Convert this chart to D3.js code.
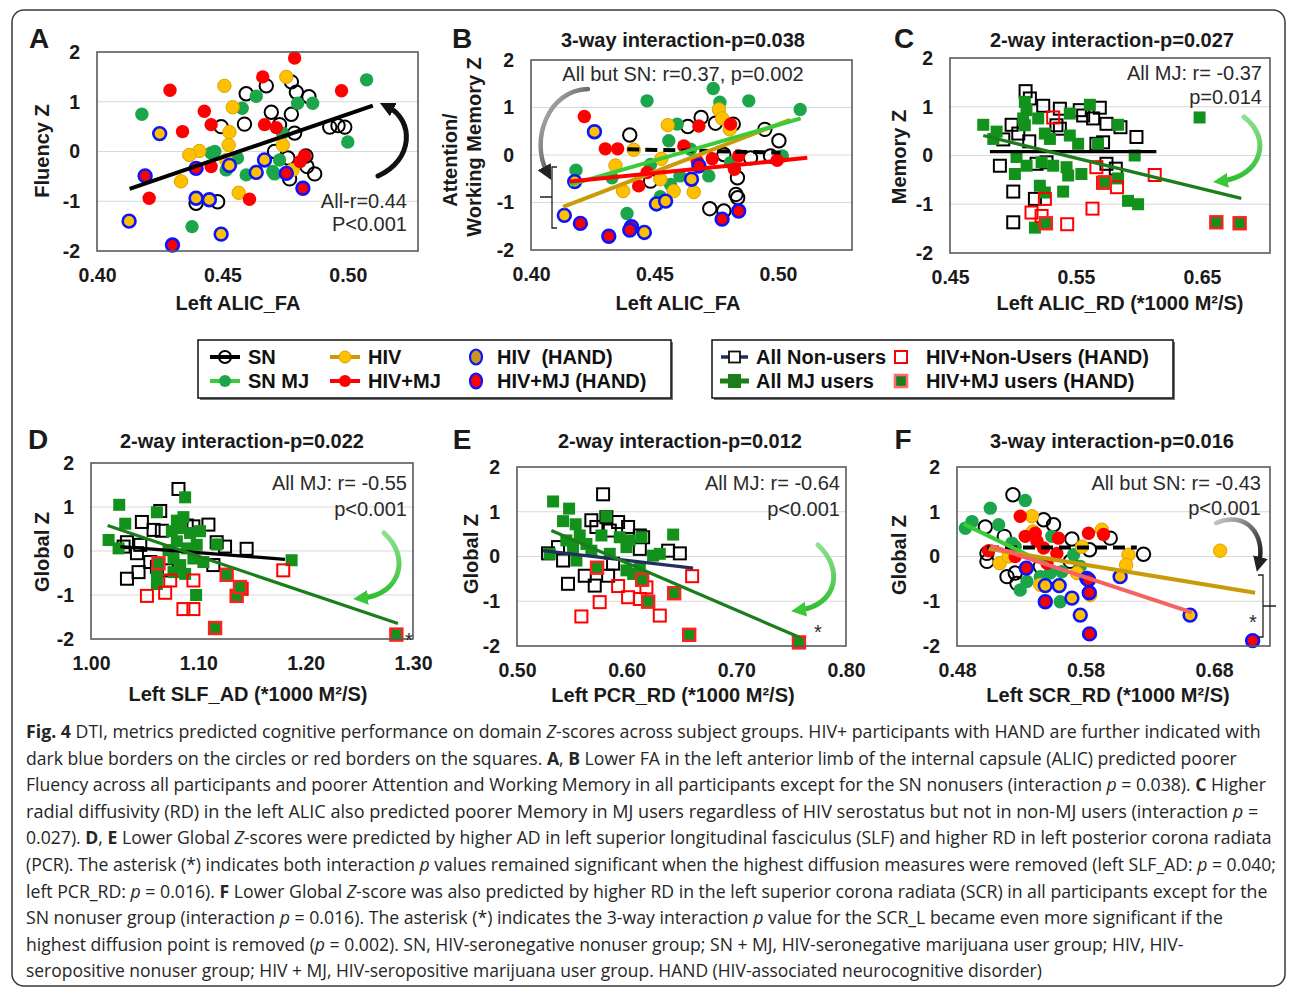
<!DOCTYPE html>
<html>
<head>
<meta charset="utf-8">
<script src="https://cdn.jsdelivr.net/npm/d3@7"></script>
<style>
  body { margin: 0; background: #fff; }
  svg { display: block; }
  .tick text { font-family: "Liberation Sans", Arial, sans-serif; font-weight: bold; font-size: 19.5px; fill: #1a1a1a; }
  text { white-space: pre; }
</style>
</head>
<body>
<script>
// ---- data: ticks ----
var yTicks = [-2, -1, 0, 1, 2],
    gridTicks = [-1, 0, 1];
var xTicksA = [0.40, 0.45, 0.50],
    xTicksB = [0.40, 0.45, 0.50],
    xTicksC = [0.45, 0.55, 0.65],
    xTicksD = [1.00, 1.10, 1.20, 1.30],
    xTicksE = [0.50, 0.60, 0.70, 0.80],
    xTicksF = [0.48, 0.58, 0.68];

// ---- panel A: Fluency Z vs Left ALIC_FA ----
var A_SN = [[0.4775,1.40],[0.4795,1.19],[0.4675,1.32],[0.4595,1.16],[0.4845,1.10],[0.4695,0.79],[0.4775,0.75],[0.4728,0.54],[0.4588,0.55],[0.4495,0.50],[0.4928,0.49],[0.4961,0.52],[0.4988,0.49],[0.4788,0.37],[0.4708,0.00],[0.4761,-0.13],[0.4833,-0.09],[0.4837,-0.30],[0.4868,-0.45],[0.4768,-0.55],[0.4481,-1.01],[0.4395,-1.04]];
var A_SNMJ = [[0.4179,0.75],[0.5075,1.44],[0.4635,1.11],[0.4579,0.87],[0.4800,0.97],[0.4860,0.97],[0.5000,0.19],[0.4379,-1.51],[0.4455,-0.03],[0.4470,0.00],[0.4515,-0.37],[0.4560,-0.13],[0.4595,-0.47],[0.4701,-0.40],[0.4728,-0.17],[0.4740,0.37],[0.4708,-0.45]];
var A_HIV = [[0.4508,1.32],[0.4755,1.50],[0.4541,0.89],[0.4528,0.39],[0.4525,0.13],[0.4408,0.01],[0.4368,-0.07],[0.4335,-0.60],[0.4565,-0.83],[0.4741,0.13],[0.4780,-0.37],[0.4515,-0.17]];
var A_HIVMJ = [[0.4788,1.88],[0.4661,1.50],[0.4291,1.23],[0.4428,0.81],[0.4341,0.40],[0.4455,0.54],[0.4668,0.54],[0.4715,0.48],[0.4975,1.22],[0.4455,-0.30],[0.4208,-0.94],[0.4608,-0.96],[0.4828,-0.09],[0.4810,-0.20]];
var A_HIV_HAND = [[0.4250,0.36],[0.4128,-1.40],[0.4395,-0.94],[0.4448,-0.97],[0.4495,-1.66],[0.4528,-0.28],[0.4635,-0.42],[0.4668,-0.17]];
var A_HIVMJ_HAND = [[0.4192,-0.49],[0.4301,-1.88],[0.4395,-0.34],[0.4755,-0.44],[0.4821,-0.74]];
var A_fit = [[0.413,-0.75],[0.510,0.92]];

// ---- panel B: Attention/Working Memory Z vs Left ALIC_FA ----
var B_SN = [[0.4400,0.42],[0.4635,0.60],[0.4689,0.79],[0.4747,0.67],[0.4819,0.65],[0.4947,0.54],[0.5004,0.30],[0.4836,-0.48],[0.4830,-0.83],[0.4837,-0.90],[0.4724,-1.13],[0.4781,-1.18],[0.4484,-0.55],[0.4781,0.01],[0.4889,-0.06],[0.4970,-0.02]];
var B_SNMJ = [[0.4738,1.40],[0.4470,1.14],[0.4882,1.14],[0.4765,1.11],[0.5090,0.96],[0.4592,0.65],[0.4558,0.30],[0.4182,-0.32],[0.4328,-0.48],[0.4389,-1.23],[0.4524,-0.88],[0.4565,-0.62],[0.4603,-0.44],[0.4720,-0.44],[0.5018,-0.02],[0.4646,0.12],[0.4484,-0.20],[0.4808,-0.16]];
var B_HIV = [[0.4761,0.96],[0.4774,0.77],[0.4805,0.54],[0.4554,0.63],[0.4416,0.11],[0.4342,-0.22],[0.4373,-0.76],[0.4524,-0.51],[0.4578,-0.76],[0.4659,-0.78],[0.4528,-0.08]];
var B_HIVMJ = [[0.4216,0.81],[0.4301,0.13],[0.4351,0.13],[0.4680,0.61],[0.4808,0.65],[0.4619,0.19],[0.4436,-0.65],[0.4470,-0.37],[0.4734,-0.08],[0.4824,-0.30],[0.4841,-0.02],[0.4997,-0.11],[0.4673,-0.13]];
var B_HIV_HAND = [[0.4257,0.49],[0.4177,-0.56],[0.4135,-1.27],[0.4459,-1.63],[0.4508,-1.03],[0.4545,-0.97],[0.4650,-0.51]];
var B_HIVMJ_HAND = [[0.4200,-1.44],[0.4315,-1.71],[0.4407,-1.51],[0.4400,-1.58],[0.4774,-1.35],[0.4841,-1.18],[0.4680,-0.23]];
var B_fitSN = [[0.439,0.12],[0.501,0.05]],
    B_fitSNMJ = [[0.4157,-0.63],[0.5092,0.77]],
    B_fitHIV = [[0.413,-1.09],[0.5049,0.74]],
    B_fitHIVMJ = [[0.4157,-0.56],[0.5119,-0.06]];

// ---- panel C: Memory Z vs Left ALIC_RD ----
var C_NON = [[0.5100,1.32],[0.5134,1.17],[0.5240,1.02],[0.5372,0.96],[0.5530,0.93],[0.5557,0.82],[0.5689,0.98],[0.5742,0.65],[0.5853,0.58],[0.5980,0.38],[0.4989,0.63],[0.5042,0.45],[0.4923,0.33],[0.5129,0.29],[0.5345,0.62],[0.5372,0.55],[0.5662,0.24],[0.5715,0.27],[0.4896,-0.21],[0.5187,-0.17],[0.5266,-0.14],[0.5002,-0.74],[0.5174,-0.89],[0.5002,-1.37],[0.5742,-0.17],[0.5816,-0.27],[0.5636,0.76]];
var C_NON_HAND = [[0.5319,0.78],[0.5662,-0.24],[0.5715,-0.56],[0.5826,-0.65],[0.6125,-0.40],[0.5147,-1.17],[0.5227,-1.24],[0.5253,-0.89],[0.5430,-1.41],[0.5631,-1.09]];
var C_MJ = [[0.4764,0.63],[0.4870,0.49],[0.4844,0.34],[0.5094,1.10],[0.5107,0.93],[0.5081,0.76],[0.5094,0.62],[0.5200,0.76],[0.5253,0.45],[0.5293,0.34],[0.5451,0.86],[0.5610,1.04],[0.5451,0.41],[0.5517,0.24],[0.5675,0.24],[0.5834,0.63],[0.5966,0.00],[0.5028,-0.03],[0.5015,-0.38],[0.5108,-0.21],[0.5227,-0.14],[0.5319,-0.21],[0.5425,-0.24],[0.5438,-0.41],[0.5543,-0.38],[0.5398,-0.74],[0.5213,-0.62],[0.5253,-0.76],[0.5834,-0.47],[0.5913,-0.93],[0.5993,-1.00],[0.5174,-1.48],[0.6481,0.78]];
var C_MJ_HAND = [[0.5261,-1.39],[0.6614,-1.37],[0.6799,-1.39],[0.5728,-0.55]];
var C_fitNON = [[0.4817,0.08],[0.6138,0.08]],
    C_fitMJ = [[0.4764,0.41],[0.6812,-0.88]];

// ---- panel D: Global Z vs Left SLF_AD ----
var D_NON = [[1.0815,1.41],[1.0645,0.91],[1.0474,0.66],[1.0583,0.48],[1.0660,0.46],[1.1094,0.60],[1.0954,0.56],[1.0892,0.58],[1.1171,0.20],[1.1249,0.10],[1.1450,0.05],[1.0335,0.20],[1.0304,0.10],[1.0459,0.14],[1.0428,-0.05],[1.0552,-0.25],[1.0614,-0.36],[1.0335,-0.63],[1.0443,-0.48],[1.0707,-0.44],[1.1140,-0.32]];
var D_NON_HAND = [[1.0521,-1.02],[1.0691,-0.95],[1.0738,-0.67],[1.0954,-0.67],[1.0861,-1.32],[1.0954,-1.32],[1.1404,-0.86],[1.1791,-0.44]];
var D_MJ = [[1.0263,1.05],[1.0164,0.25],[1.0257,0.06],[1.0319,0.62],[1.0614,0.88],[1.0877,1.22],[1.0800,0.69],[1.0861,0.77],[1.0831,0.52],[1.0753,0.45],[1.0923,0.41],[1.1016,0.45],[1.0985,0.14],[1.0892,0.06],[1.0800,0.22],[1.0722,0.02],[1.0769,-0.17],[1.0831,-0.32],[1.1047,-0.25],[1.1171,0.15],[1.0954,-0.17],[1.0614,-0.49],[1.0614,-0.75],[1.0769,-0.48],[1.0877,-0.52],[1.0979,-1.00],[1.1869,-0.21]];
var D_MJ_HAND = [[1.0629,-0.28],[1.1156,-1.75],[1.1264,-0.54],[1.1357,-1.02],[1.1388,-0.82],[1.2845,-1.90]];
var D_fitNON = [[1.0273,0.10],[1.1807,-0.19]],
    D_fitMJ = [[1.0155,0.58],[1.286,-1.65]];

// ---- panel E: Global Z vs Left PCR_RD ----
var E_NON = [[0.5785,1.39],[0.5678,0.81],[0.5724,0.66],[0.5815,0.88],[0.5846,0.58],[0.5922,0.77],[0.6013,0.66],[0.6120,0.47],[0.6150,0.43],[0.5283,0.07],[0.5420,-0.09],[0.5374,0.21],[0.5465,-0.61],[0.5618,-0.43],[0.5709,-0.65],[0.5831,-0.43],[0.5876,-0.16],[0.6378,0.13],[0.6485,0.07],[0.6120,0.17]];
var E_NON_HAND = [[0.5587,-1.34],[0.5754,-1.02],[0.5922,-0.66],[0.6013,-0.91],[0.6120,-0.95],[0.6180,-0.69],[0.6302,-1.32],[0.6597,-0.44]];
var E_MJ = [[0.5329,1.23],[0.5475,1.07],[0.5420,0.79],[0.5535,0.72],[0.5572,0.47],[0.5633,0.28],[0.5511,0.21],[0.5298,0.06],[0.5450,0.36],[0.5815,0.90],[0.5770,0.47],[0.5937,0.43],[0.6028,0.36],[0.5998,0.21],[0.6135,0.43],[0.6424,0.49],[0.6241,0.02],[0.6302,0.06],[0.5998,-0.31],[0.6059,-0.39],[0.6120,-0.28],[0.5542,-0.09],[0.5846,0.06],[0.5678,0.13]];
var E_MJ_HAND = [[0.5730,-0.25],[0.6141,-0.52],[0.6196,-1.01],[0.6433,-0.82],[0.6570,-1.75],[0.7571,-1.92]];
var E_fitNON = [[0.5237,0.13],[0.6606,-0.26]],
    E_fitMJ = [[0.5313,0.58],[0.758,-1.81]];

// ---- panel F: Global Z vs Left SCR_RD ----
var F_SN = [[0.5235,1.38],[0.5020,0.66],[0.5168,0.45],[0.5474,0.82],[0.5551,0.71],[0.5694,0.39],[0.5831,0.15],[0.5992,0.41],[0.6251,0.05],[0.5033,0.07],[0.5033,-0.11],[0.5189,-0.45],[0.5253,-0.37],[0.5266,-0.60],[0.5448,-0.22],[0.5551,-0.45],[0.5681,-0.11]];
var F_SNMJ = [[0.4865,0.63],[0.4917,0.78],[0.5059,1.08],[0.5124,0.71],[0.5331,1.25],[0.5227,0.30],[0.5253,0.22],[0.5344,-0.56],[0.5292,-0.75],[0.5448,-0.45],[0.5525,-0.37],[0.5538,0.45],[0.5603,-1.01],[0.5707,0.04],[0.5759,-0.22],[0.5616,-0.34]];
var F_HIV = [[0.5383,0.90],[0.5391,0.56],[0.5772,0.22],[0.5927,0.60],[0.5132,-0.15],[0.5202,0.00],[0.5448,-0.63],[0.5733,-0.37],[0.6134,0.04],[0.6116,-0.19],[0.6847,0.13],[0.5836,-0.86]];
var F_HIVMJ = [[0.5292,0.90],[0.5331,0.45],[0.5409,0.52],[0.5422,0.34],[0.5474,0.19],[0.5590,0.41],[0.5823,0.52],[0.5940,0.49],[0.5046,0.13],[0.5253,0.00],[0.5500,-0.15],[0.5577,0.07]];
var F_HIV_HAND = [[0.5487,-0.65],[0.5595,-0.65],[0.5694,-0.93],[0.5759,-1.31],[0.6069,-0.45],[0.6613,-1.31],[0.5810,-0.49]];
var F_HIVMJ_HAND = [[0.5339,-0.26],[0.5487,-1.01],[0.5823,-0.52],[0.5829,-0.81],[0.5831,-1.73],[0.7100,-1.88]];
var F_fitSN = [[0.5033,0.20],[0.6199,0.20]],
    F_fitSNMJ = [[0.4852,0.73],[0.5512,-0.19]],
    F_fitHIV = [[0.5046,0.17],[0.7119,-0.81]],
    F_fitHIVMJ = [[0.5059,0.24],[0.6626,-1.25]];

// ---- texts ----
var legendCircleLabels = ["SN", "HIV", "HIV  (HAND)", "SN MJ", "HIV+MJ", "HIV+MJ (HAND)"];
var legendSquareLabels = ["All Non-users", "HIV+Non-Users (HAND)", "All MJ users", "HIV+MJ users (HAND)"];

var captionLines = [
  [["b","Fig. 4"],["n"," DTI, metrics predicted cognitive performance on domain "],["i","Z"],["n","-scores across subject groups. HIV+ participants with HAND are further indicated with"]],
  [["n","dark blue borders on the circles or red borders on the squares. "],["b","A"],["n",", "],["b","B"],["n"," Lower FA in the left anterior limb of the internal capsule (ALIC) predicted poorer"]],
  [["n","Fluency across all participants and poorer Attention and Working Memory in all participants except for the SN nonusers (interaction "],["i","p"],["n"," = 0.038). "],["b","C"],["n"," Higher"]],
  [["n","radial diffusivity (RD) in the left ALIC also predicted poorer Memory in MJ users regardless of HIV serostatus but not in non-MJ users (interaction "],["i","p"],["n"," ="]],
  [["n","0.027). "],["b","D"],["n",", "],["b","E"],["n"," Lower Global "],["i","Z"],["n","-scores were predicted by higher AD in left superior longitudinal fasciculus (SLF) and higher RD in left posterior corona radiata"]],
  [["n","(PCR). The asterisk (*) indicates both interaction "],["i","p"],["n"," values remained significant when the highest diffusion measures were removed (left SLF_AD: "],["i","p"],["n"," = 0.040;"]],
  [["n","left PCR_RD: "],["i","p"],["n"," = 0.016). "],["b","F"],["n"," Lower Global "],["i","Z"],["n","-score was also predicted by higher RD in the left superior corona radiata (SCR) in all participants except for the"]],
  [["n","SN nonuser group (interaction "],["i","p"],["n"," = 0.016). The asterisk (*) indicates the 3-way interaction "],["i","p"],["n"," value for the SCR_L became even more significant if the"]],
  [["n","highest diffusion point is removed ("],["i","p"],["n"," = 0.002). SN, HIV-seronegative nonuser group; SN + MJ, HIV-seronegative marijuana user group; HIV, HIV-"]],
  [["n","seropositive nonuser group; HIV + MJ, HIV-seropositive marijuana user group. HAND (HIV-associated neurocognitive disorder)"]]
];
var captionEnds = [1262, 1238, 1267, 1259, 1273, 1277, 1268, 1224, 1184, 1043];

// ---- colours ----
var cSN = "#000", cSNMJ = "#1ba64b", cHIV = "#ffc000", cHIVedge = "#dba200", cHIVMJ = "#ff0000",
    cHAND = "#0a14ff", cSq = "#13921b", cSqLine = "#1b7e1b", cNavy = "#1f2f5e",
    cLightGreen = "#3acb3a", cGold = "#c99b06", cSalmon = "#f46262";

var FONT = "'Liberation Sans', Arial, sans-serif";

var svg = d3.select("body").append("svg")
    .attr("width", 1290)
    .attr("height", 989)
    .style("font-family", FONT);

svg.append("rect")
    .attr("x", 12).attr("y", 10)
    .attr("width", 1273).attr("height", 976)
    .attr("rx", 12)
    .attr("fill", "#fff")
    .attr("stroke", "#3a3a3a")
    .attr("stroke-width", 1.5);

var defs = svg.append("defs");
[["headBlack", "#111"], ["headGreen", "#3cc63c"], ["headGray", "#222"]].forEach(function(m) {
  defs.append("marker")
      .attr("id", m[0])
      .attr("viewBox", "0 0 10 10")
      .attr("refX", 4).attr("refY", 5)
      .attr("markerUnits", "userSpaceOnUse")
      .attr("markerWidth", 15).attr("markerHeight", 15)
      .attr("orient", "auto")
    .append("path")
      .attr("d", "M0,0 L10,5 L0,10 Z")
      .attr("fill", m[1]);
});
var grad = defs.append("linearGradient").attr("id", "grayGrad")
    .attr("x1", "0").attr("y1", "0").attr("x2", "1").attr("y2", "1");
grad.append("stop").attr("offset", "0%").attr("stop-color", "#c8c8c8");
grad.append("stop").attr("offset", "100%").attr("stop-color", "#111");
var grad2 = defs.append("linearGradient").attr("id", "greenGrad")
    .attr("x1", "0").attr("y1", "0").attr("x2", "0").attr("y2", "1");
grad2.append("stop").attr("offset", "0%").attr("stop-color", "#8ee08e");
grad2.append("stop").attr("offset", "100%").attr("stop-color", "#2fbf2f");

// ---- panel frame with axes ----
function panel(box, xDomain, xTicks) {
  var g = svg.append("g");
  var x = d3.scaleLinear().domain(xDomain).range([box.left, box.right]);
  var y = d3.scaleLinear().domain([-2, 2]).range([box.bottom, box.top]);

  g.selectAll(".grid")
    .data(gridTicks)
    .enter().append("line")
      .attr("x1", box.left).attr("x2", box.right)
      .attr("y1", function(d) { return y(d); })
      .attr("y2", function(d) { return y(d); })
      .attr("stroke", "#d9d9d9")
      .attr("stroke-width", 1.2);

  g.append("g")
      .attr("transform", "translate(0," + box.bottom + ")")
      .call(d3.axisBottom(x).tickValues(xTicks).tickFormat(d3.format(".2f")).tickSize(0).tickPadding(17))
      .call(function(a) { a.select(".domain").remove(); });

  g.append("g")
      .attr("transform", "translate(" + box.left + ",0)")
      .call(d3.axisLeft(y).tickValues(yTicks).tickFormat(function(d) { return String(d); }).tickSize(0).tickPadding(17))
      .call(function(a) { a.select(".domain").remove(); });

  var marks = svg.append("g");
  var over = svg.append("g");
  over.append("rect")
      .attr("x", box.left).attr("y", box.top)
      .attr("width", box.right - box.left).attr("height", box.bottom - box.top)
      .attr("fill", "none")
      .attr("stroke", "#5a5a5a")
      .attr("stroke-width", 1.6);
  return {x: x, y: y, g: marks};
}

function circles(p, pts, fill, stroke, sw) {
  p.g.append("g").selectAll("circle")
    .data(pts)
    .enter().append("circle")
      .attr("cx", function(d) { return p.x(d[0]); })
      .attr("cy", function(d) { return p.y(d[1]); })
      .attr("r", sw > 2 ? 6.4 : 6.7)
      .attr("fill", fill)
      .attr("stroke", stroke)
      .attr("stroke-width", sw);
}

function squares(p, pts, fill, stroke, sw) {
  var s = 12;
  p.g.append("g").selectAll("rect")
    .data(pts)
    .enter().append("rect")
      .attr("x", function(d) { return p.x(d[0]) - s / 2; })
      .attr("y", function(d) { return p.y(d[1]) - s / 2; })
      .attr("width", s).attr("height", s)
      .attr("fill", fill)
      .attr("stroke", stroke)
      .attr("stroke-width", sw);
}

function fit(p, seg, color, w, dash) {
  p.g.append("line")
      .attr("x1", p.x(seg[0][0])).attr("y1", p.y(seg[0][1]))
      .attr("x2", p.x(seg[1][0])).attr("y2", p.y(seg[1][1]))
      .attr("stroke", color)
      .attr("stroke-width", w)
      .attr("stroke-dasharray", dash || null);
}

function label(txt, x, y, opts) {
  opts = opts || {};
  svg.append("text")
      .attr("x", x).attr("y", y)
      .attr("text-anchor", opts.anchor || "middle")
      .attr("font-size", opts.size || 20)
      .attr("font-weight", opts.weight || "bold")
      .attr("fill", opts.fill || "#1a1a1a")
      .text(txt);
}

function note(txt, x, y, anchor) {
  label(txt, x, y, {anchor: anchor || "end", size: 20, weight: "normal", fill: "#2a2a2a"});
}

function vlabel(txt, cx, cy) {
  svg.append("text")
      .attr("transform", "translate(" + (cx + 7) + "," + cy + ") rotate(-90)")
      .attr("text-anchor", "middle")
      .attr("font-size", 20)
      .attr("font-weight", "bold")
      .attr("fill", "#1a1a1a")
      .text(txt);
}

function arrow(d, stroke, head, w) {
  svg.append("path")
      .attr("d", d)
      .attr("fill", "none")
      .attr("stroke", stroke)
      .attr("stroke-width", w)
      .attr("stroke-linecap", "round")
      .attr("marker-end", "url(#" + head + ")");
}

function circleGroups(p, sn, snmj, hiv, hivmj, hivHand, hivmjHand) {
  circles(p, sn, "none", cSN, 2);
  circles(p, snmj, cSNMJ, "none", 0);
  circles(p, hiv, cHIV, cHIVedge, 1);
  circles(p, hivmj, cHIVMJ, "none", 0);
  circles(p, hivHand, cHIV, cHAND, 2.6);
  circles(p, hivmjHand, cHIVMJ, cHAND, 2.6);
}

function squareGroups(p, non, nonHand, mj, mjHand) {
  squares(p, non, "none", "#000", 2);
  squares(p, mj, cSq, "none", 0);
  squares(p, nonHand, "none", "#ff0000", 2);
  squares(p, mjHand, cSq, "#ff2020", 2.4);
}

// ---- A ----
var pA = panel({left: 97, right: 418, top: 52, bottom: 251}, [0.40, 0.528], xTicksA);
circleGroups(pA, A_SN, A_SNMJ, A_HIV, A_HIVMJ, A_HIV_HAND, A_HIVMJ_HAND);
fit(pA, A_fit, "#000", 4);
label("A", 39, 48, {size: 28});
vlabel("Fluency Z", 42, 151);
label("Left ALIC_FA", 238, 310);
note("All-r=0.44", 407, 208);
note("P<0.001", 407, 231);
arrow("M378,176 C414,160 414,120 388,107", "#111", "headBlack", 5);

// ---- B ----
var pB = panel({left: 531, right: 852, top: 60, bottom: 250}, [0.40, 0.530], xTicksB);
circleGroups(pB, B_SN, B_SNMJ, B_HIV, B_HIVMJ, B_HIV_HAND, B_HIVMJ_HAND);
fit(pB, B_fitSN, "#000", 4, "12,6");
fit(pB, B_fitHIV, cGold, 4);
fit(pB, B_fitSNMJ, cLightGreen, 4);
fit(pB, B_fitHIVMJ, "#ff0000", 4);
label("B", 462, 48, {size: 28});
label("3-way interaction-p=0.038", 683, 47);
vlabel("Attention/", 450, 160);
vlabel("Working Memory Z", 474, 147);
label("Left ALIC_FA", 678, 310);
note("All but SN: r=0.37, p=0.002", 683, 81, "middle");
arrow("M588,89 C548,90 530,140 547,172", "url(#grayGrad)", "headGray", 4.5);
svg.append("path")
    .attr("d", "M557,167 L552,167 L552,228 L557,228 M552,197 L540,197")
    .attr("fill", "none").attr("stroke", "#222").attr("stroke-width", 1.3);

// ---- C ----
var pC = panel({left: 950, right: 1270, top: 58, bottom: 253}, [0.45, 0.704], xTicksC);
squareGroups(pC, C_NON, C_NON_HAND, C_MJ, C_MJ_HAND);
fit(pC, C_fitNON, "#000", 3.2);
fit(pC, C_fitMJ, cSqLine, 3.2);
label("C", 904, 48, {size: 28});
label("2-way interaction-p=0.027", 1112, 47);
vlabel("Memory Z", 899, 157);
label("Left ALIC_RD (*1000 M²/S)", 1120, 310);
note("All MJ: r= -0.37", 1262, 80);
note("p=0.014", 1262, 104);
arrow("M1244,117 C1272,138 1262,176 1222,181", "url(#greenGrad)", "headGreen", 5);

// ---- D ----
var pD = panel({left: 91, right: 413, top: 463, bottom: 639}, [1.00, 1.30], xTicksD);
squareGroups(pD, D_NON, D_NON_HAND, D_MJ, D_MJ_HAND);
fit(pD, D_fitNON, "#000", 3.2);
fit(pD, D_fitMJ, cSqLine, 3.2);
label("D", 38, 449, {size: 28});
label("2-way interaction-p=0.022", 242, 448);
vlabel("Global Z", 42, 552);
label("Left SLF_AD (*1000 M²/S)", 248, 701);
note("All MJ: r= -0.55", 407, 490);
note("p<0.001", 407, 516);
note("*", 409, 647, "middle");
arrow("M384,533 C410,556 402,594 362,598", "url(#greenGrad)", "headGreen", 5);

// ---- E ----
var pE = panel({left: 517, right: 846, top: 467, bottom: 646}, [0.50, 0.80], xTicksE);
squareGroups(pE, E_NON, E_NON_HAND, E_MJ, E_MJ_HAND);
fit(pE, E_fitNON, cNavy, 3.2);
fit(pE, E_fitMJ, cSqLine, 3.2);
label("E", 462, 449, {size: 28});
label("2-way interaction-p=0.012", 680, 448);
vlabel("Global Z", 471, 554);
label("Left PCR_RD (*1000 M²/S)", 673, 702);
note("All MJ: r= -0.64", 840, 490);
note("p<0.001", 840, 516);
note("*", 818, 639, "middle");
arrow("M818,545 C845,570 836,605 800,610", "url(#greenGrad)", "headGreen", 5);

// ---- F ----
var pF = panel({left: 957, right: 1270, top: 467, bottom: 646}, [0.48, 0.7235], xTicksF);
circleGroups(pF, F_SN, F_SNMJ, F_HIV, F_HIVMJ, F_HIV_HAND, F_HIVMJ_HAND);
fit(pF, F_fitSN, "#000", 4, "12,6");
fit(pF, F_fitSNMJ, cLightGreen, 4);
fit(pF, F_fitHIV, cGold, 4);
fit(pF, F_fitHIVMJ, cSalmon, 4);
label("F", 903, 449, {size: 28});
label("3-way interaction-p=0.016", 1112, 448);
vlabel("Global Z", 899, 555);
label("Left SCR_RD (*1000 M²/S)", 1108, 702);
note("All but SN: r= -0.43", 1261, 490);
note("p<0.001", 1261, 515);
note("*", 1253, 629, "middle");
arrow("M1216,523 C1246,510 1266,535 1259,563", "url(#grayGrad)", "headGray", 4.5);
svg.append("path")
    .attr("d", "M1258,575 L1263,575 L1263,637 L1258,637 M1263,606 L1276,606")
    .attr("fill", "none").attr("stroke", "#222").attr("stroke-width", 1.3);

// ---- legends ----
function legendBox(x, y, w, h) {
  svg.append("rect").attr("x", x + 2).attr("y", y + 2).attr("width", w).attr("height", h)
      .attr("fill", "#777");
  svg.append("rect").attr("x", x).attr("y", y).attr("width", w).attr("height", h)
      .attr("fill", "#fff").attr("stroke", "#111").attr("stroke-width", 1.5);
}
legendBox(198, 340, 473, 58);
legendBox(712, 340, 461, 58);

var lg = svg.append("g");
var rowY = [357, 381];
function legendText(txt, x, y) {
  lg.append("text").attr("x", x).attr("y", y + 7)
      .attr("font-size", 20).attr("font-weight", "bold").attr("fill", "#111")
      .text(txt);
}
// circle legend: line + marker entries
[[210, rowY[0], cSN, "none", cSN, 2, 0],
 [330, rowY[0], cGold, cHIV, cHIVedge, 1, 1],
 [210, rowY[1], cLightGreen, cSNMJ, "none", 0, 3],
 [330, rowY[1], "#ff0000", cHIVMJ, "none", 0, 4]].forEach(function(e) {
  lg.append("line").attr("x1", e[0]).attr("x2", e[0] + 30).attr("y1", e[1]).attr("y2", e[1])
      .attr("stroke", e[2]).attr("stroke-width", 4);
  lg.append("circle").attr("cx", e[0] + 15).attr("cy", e[1]).attr("r", 6)
      .attr("fill", e[3]).attr("stroke", e[4]).attr("stroke-width", e[5] || 0);
  legendText(legendCircleLabels[e[6]], e[0] + 38, e[1]);
});
[[476, rowY[0], "#c8961e", 2], [476, rowY[1], cHIVMJ, 5]].forEach(function(e) {
  lg.append("ellipse").attr("cx", e[0]).attr("cy", e[1]).attr("rx", 6).attr("ry", 7.5)
      .attr("fill", e[2]).attr("stroke", cHAND).attr("stroke-width", 2.2);
  legendText(legendCircleLabels[e[3]], e[0] + 21, e[1]);
});
// square legend
lg.append("line").attr("x1", 721).attr("x2", 748).attr("y1", rowY[0]).attr("y2", rowY[0])
    .attr("stroke", cNavy).attr("stroke-width", 3.5);
lg.append("rect").attr("x", 729).attr("y", rowY[0] - 5.5).attr("width", 11).attr("height", 11)
    .attr("fill", "#fff").attr("stroke", "#111").attr("stroke-width", 1.8);
lg.append("line").attr("x1", 720).attr("x2", 749).attr("y1", rowY[1]).attr("y2", rowY[1])
    .attr("stroke", cSqLine).attr("stroke-width", 5);
lg.append("rect").attr("x", 728).attr("y", rowY[1] - 7).attr("width", 13).attr("height", 14)
    .attr("fill", cSqLine);
lg.append("rect").attr("x", 895).attr("y", rowY[0] - 6).attr("width", 12).attr("height", 12)
    .attr("fill", "#fff").attr("stroke", "#ff0000").attr("stroke-width", 2);
lg.append("rect").attr("x", 895).attr("y", rowY[1] - 6).attr("width", 12).attr("height", 12)
    .attr("fill", cSqLine).attr("stroke", "#ff6a6a").attr("stroke-width", 2.5);
[[756, rowY[0], 0], [926, rowY[0], 1], [756, rowY[1], 2], [926, rowY[1], 3]].forEach(function(e) {
  legendText(legendSquareLabels[e[2]], e[0], e[1]);
});

// ---- caption ----
var cap = svg.append("g")
    .style("font-family", "'Open Sans', 'Noto Sans', sans-serif")
    .attr("font-size", 18)
    .attr("fill", "#262626");
captionLines.forEach(function(line, i) {
  var t = cap.append("text").attr("x", 0).attr("y", 0);
  line.forEach(function(seg) {
    var s = t.append("tspan").text(seg[1]);
    if (seg[0] === "b") s.attr("font-weight", "bold");
    if (seg[0] === "i") s.attr("font-style", "italic");
  });
  var w = t.node().getComputedTextLength();
  var k = (captionEnds[i] - 26) / w;
  t.attr("transform", "translate(26," + (738 + i * 26.6) + ") scale(" + k + ",1)");
});
</script>
</body>
</html>
